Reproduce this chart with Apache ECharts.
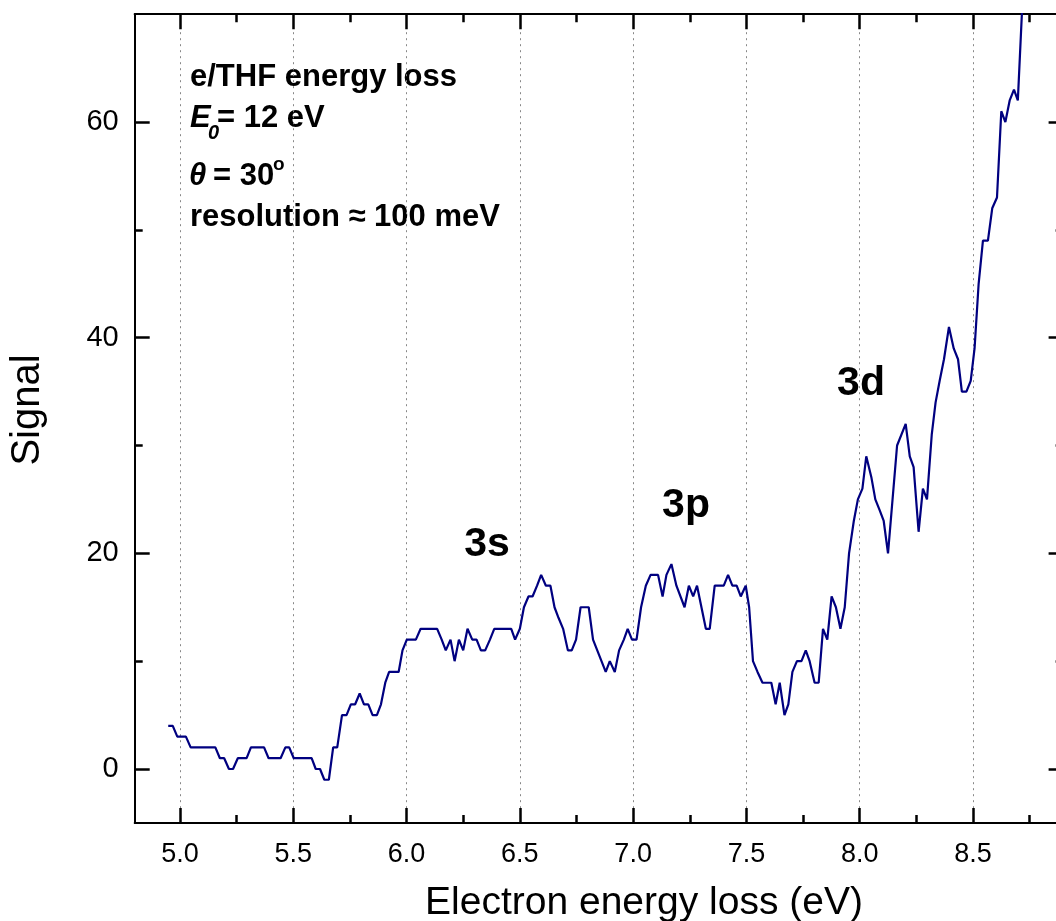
<!DOCTYPE html>
<html>
<head>
<meta charset="utf-8">
<script src="https://cdn.jsdelivr.net/npm/echarts@6/dist/echarts.min.js"></script>
<style>
  html, body { margin: 0; padding: 0; background: #fff; }
  #chart { width: 1056px; height: 921px; }
</style>
</head>
<body>
<div id="chart"></div>
<script>
// Electron energy loss (eV)
const energy = [
  4.948, 4.968, 4.988, 5.026, 5.047, 5.156, 5.176, 5.195, 5.216, 5.234,
  5.255, 5.294, 5.313, 5.371, 5.391, 5.444, 5.465, 5.482, 5.502, 5.581,
  5.599, 5.618, 5.637, 5.657, 5.676, 5.694, 5.715, 5.735, 5.754, 5.773,
  5.793, 5.812, 5.831, 5.850, 5.869, 5.887, 5.906, 5.923, 5.965, 5.982,
  6.001, 6.041, 6.062, 6.135, 6.155, 6.173, 6.194, 6.212, 6.231, 6.250,
  6.269, 6.290, 6.309, 6.328, 6.347, 6.368, 6.387, 6.462, 6.479, 6.500,
  6.518, 6.538, 6.556, 6.576, 6.594, 6.615, 6.635, 6.653, 6.671, 6.691,
  6.712, 6.729, 6.748, 6.768, 6.804, 6.823, 6.879, 6.897, 6.919, 6.938,
  6.959, 6.976, 6.995, 7.015, 7.035, 7.056, 7.077, 7.110, 7.130, 7.147,
  7.169, 7.191, 7.227, 7.246, 7.265, 7.282, 7.321, 7.338, 7.360, 7.400,
  7.419, 7.438, 7.457, 7.475, 7.497, 7.512, 7.529, 7.549, 7.571, 7.610,
  7.629, 7.647, 7.668, 7.685, 7.703, 7.723, 7.743, 7.762, 7.779, 7.801,
  7.819, 7.838, 7.857, 7.876, 7.895, 7.915, 7.934, 7.953, 7.974, 7.992,
  8.012, 8.029, 8.052, 8.069, 8.088, 8.106, 8.125, 8.165, 8.203, 8.221,
  8.238, 8.260, 8.279, 8.297, 8.318, 8.335, 8.353, 8.372, 8.394, 8.415,
  8.434, 8.451, 8.471, 8.490, 8.507, 8.525, 8.544, 8.566, 8.585, 8.606,
  8.625, 8.643, 8.662, 8.681, 8.698, 8.718
];
// Signal (counts)
const signal = [
  4, 4, 3, 3, 2, 2, 1, 1, 0, 0,
  1, 1, 2, 2, 1, 1, 2, 2, 1, 1,
  0, 0, -1, -1, 2, 2, 5, 5, 6, 6,
  7, 6, 6, 5, 5, 6, 8, 9, 9, 11,
  12, 12, 13, 13, 12, 11, 12, 10, 12, 11,
  13, 12, 12, 11, 11, 12, 13, 13, 12, 13,
  15, 16, 16, 17, 18, 17, 17, 15, 14, 13,
  11, 11, 12, 15, 15, 12, 9, 10, 9, 11,
  12, 13, 12, 12, 15, 17, 18, 18, 16, 18,
  19, 17, 15, 17, 16, 17, 13, 13, 17, 17,
  18, 17, 17, 16, 17, 15, 10, 9, 8, 8,
  6, 8, 5, 6, 9, 10, 10, 11, 10, 8,
  8, 13, 12, 16, 15, 13, 15, 20, 23, 25,
  26, 29, 27, 25, 24, 23, 20, 30, 32, 29,
  28, 22, 26, 25, 31, 34, 36, 38, 41, 39,
  38, 35, 35, 36, 39, 45, 49, 49, 52, 53,
  61, 60, 62, 63, 62, 71
];
const xMajorTicks = [5.0, 5.5, 6.0, 6.5, 7.0, 7.5, 8.0, 8.5];
const xMinorTicks = [5.25, 5.75, 6.25, 6.75, 7.25, 7.75, 8.25, 8.75];
const yMajorTicks = [0, 20, 40, 60];
const yMinorTicks = [10, 30, 50];
const peakLabels = ['3s', '3p', '3d'];

const FONT = '"Liberation Sans", Arial, Helvetica, sans-serif';
const X_MIN = 4.8, X_MAX = 8.9, Y_MIN = -5, Y_MAX = 70;

const chart = echarts.init(document.getElementById('chart'), null, { renderer: 'canvas' });

function xAxisDef(position, ticks, major) {
  return {
    type: 'value', position: position, min: X_MIN, max: X_MAX,
    axisLine: { show: major, onZero: false, lineStyle: { color: '#000', width: 2 } },
    axisTick: { show: true, inside: true, customValues: ticks, length: major ? 15 : 8,
                lineStyle: { color: '#000', width: 2.5 } },
    axisLabel: { show: major && position === 'bottom', customValues: ticks,
                 formatter: v => Number(v).toFixed(1), color: '#000',
                 fontFamily: FONT, fontSize: 27, margin: 18 },
    splitLine: { show: major && position === 'bottom',
                 lineStyle: { color: '#888', type: [2, 4], width: 1 } },
    minorTick: { show: false }
  };
}
function yAxisDef(position, ticks, major) {
  return {
    type: 'value', position: position, min: Y_MIN, max: Y_MAX,
    axisLine: { show: major, onZero: false, lineStyle: { color: '#000', width: 2 } },
    axisTick: { show: true, inside: true, customValues: ticks, length: major ? 15 : 8,
                lineStyle: { color: '#000', width: 2.5 } },
    axisLabel: { show: major && position === 'left', customValues: ticks,
                 formatter: v => String(v), color: '#000',
                 fontFamily: FONT, fontSize: 29, margin: 16 },
    splitLine: { show: false },
    minorTick: { show: false }
  };
}

const option = {
  animation: false,
  backgroundColor: '#fff',
  grid: { left: 134.7, top: 14.2, width: 928.9, height: 808.7,
          containLabel: false, outerBoundsMode: 'none' },
  xAxis: [
    xAxisDef('bottom', xMajorTicks, true),
    xAxisDef('bottom', xMinorTicks, false),
    xAxisDef('top', xMajorTicks, true),
    xAxisDef('top', xMinorTicks, false)
  ],
  yAxis: [
    yAxisDef('left', yMajorTicks, true),
    yAxisDef('left', yMinorTicks, false),
    yAxisDef('right', yMajorTicks, true),
    yAxisDef('right', yMinorTicks, false)
  ],
  series: [{
    type: 'line',
    xAxisIndex: 0, yAxisIndex: 0,
    data: energy.map((e, i) => [e, signal[i]]),
    showSymbol: false,
    symbol: 'none',
    clip: true,
    lineStyle: { color: '#000080', width: 2.2 },
    z: 5
  }],
  graphic: [
    { type: 'text', x: 190, y: 77, style: { text: 'e/THF energy loss', font: 'bold 31px ' + FONT, fill: '#000', align: 'left', verticalAlign: 'middle' } },
    { type: 'text', x: 190, y: 118, style: { text: 'E', font: 'italic bold 31px ' + FONT, fill: '#000', align: 'left', verticalAlign: 'middle' } },
    { type: 'text', x: 208, y: 133, style: { text: '0', font: 'italic bold 20px ' + FONT, fill: '#000', align: 'left', verticalAlign: 'middle' } },
    { type: 'text', x: 217, y: 118, style: { text: '= 12 eV', font: 'bold 31px ' + FONT, fill: '#000', align: 'left', verticalAlign: 'middle' } },
    { type: 'text', x: 189, y: 176, style: { text: 'θ', font: 'italic bold 31px ' + FONT, fill: '#000', align: 'left', verticalAlign: 'middle' } },
    { type: 'text', x: 213, y: 176, style: { text: '= 30', font: 'bold 31px ' + FONT, fill: '#000', align: 'left', verticalAlign: 'middle' } },
    { type: 'text', x: 273, y: 165, style: { text: 'o', font: 'bold 19px ' + FONT, fill: '#000', align: 'left', verticalAlign: 'middle' } },
    { type: 'text', x: 190, y: 217, style: { text: 'resolution ≈ 100 meV', font: 'bold 31px ' + FONT, fill: '#000', align: 'left', verticalAlign: 'middle' } },
    { type: 'text', x: 487, y: 545, style: { text: peakLabels[0], font: 'bold 41px ' + FONT, fill: '#000', align: 'center', verticalAlign: 'middle' } },
    { type: 'text', x: 686, y: 506, style: { text: peakLabels[1], font: 'bold 41px ' + FONT, fill: '#000', align: 'center', verticalAlign: 'middle' } },
    { type: 'text', x: 861, y: 384, style: { text: peakLabels[2], font: 'bold 41px ' + FONT, fill: '#000', align: 'center', verticalAlign: 'middle' } },
    { type: 'text', x: 644, y: 903, style: { text: 'Electron energy loss (eV)', font: '39px ' + FONT, fill: '#000', align: 'center', verticalAlign: 'middle' } },
    { type: 'text', x: 28, y: 410, rotation: Math.PI / 2, style: { text: 'Signal', font: '40px ' + FONT, fill: '#000', align: 'center', verticalAlign: 'middle' } }
  ]
};
chart.setOption(option);
</script>
</body>
</html>
